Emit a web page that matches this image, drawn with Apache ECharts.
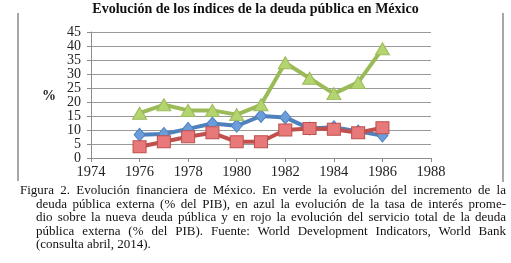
<!DOCTYPE html>
<html>
<head>
<meta charset="utf-8">
<script src="https://cdn.jsdelivr.net/npm/echarts@6/dist/echarts.min.js"></script>
<style>
  html, body { margin: 0; padding: 0; background: #fff; }
  #wrap { position: relative; width: 511px; height: 263px; overflow: hidden; }
  #chart { position: absolute; left: 0; top: 0; width: 511px; height: 263px; }
  .cap { position: absolute; font-family: 'Liberation Serif', 'DejaVu Serif', serif; font-size: 13px;
         color: #111; white-space: nowrap; line-height: 14px; }
  .just { text-align: justify; text-align-last: justify; white-space: normal; }
</style>
</head>
<body>
<div id="wrap">
  <div id="chart"></div>
  <div class="cap just" style="left:20px; top:183px; width:486px;">Figura 2. Evolución financiera de México. En verde la evolución del incremento de la</div>
  <div class="cap just" style="left:36px; top:196.5px; width:470px;">deuda pública externa (% del PIB), en azul la evolución de la tasa de interés prome-</div>
  <div class="cap just" style="left:36px; top:210px; width:470px;">dio sobre la nueva deuda pública y en rojo la evolución del servicio total de la deuda</div>
  <div class="cap just" style="left:36px; top:223.5px; width:470px;">pública externa (% del PIB). Fuente: World Development Indicators, World Bank</div>
  <div class="cap" style="left:36px; top:237px;">(consulta abril, 2014).</div>
</div>
<script>
// Data
var years = [1976, 1977, 1978, 1979, 1980, 1981, 1982, 1983, 1984, 1985, 1986];
var deudaExterna = [16, 19, 17, 17, 15.5, 19, 34, 28.5, 23, 27, 39];       // verde
var tasaInteres = [8.3, 8.6, 10.4, 12.3, 11.5, 15, 14.5, 10.5, 11, 9.5, 8]; // azul
var servicioDeuda = [4, 5.8, 7.6, 9, 5.8, 5.8, 10, 10.5, 10.3, 9, 10.8];   // rojo
var yTicks = [0, 5, 10, 15, 20, 25, 30, 35, 40, 45];
var xTicks = [1974, 1976, 1978, 1980, 1982, 1984, 1986, 1988];

var serif = "'Liberation Serif', 'DejaVu Serif', serif";

var pairs = function pairs(vals) {
  return years.map(function (y, i) { return [y, vals[i]]; });
};

var mkSeries = function mkSeries(name, vals, line, fill, symbol, size) {
  return {
    type: 'line',
    name: name,
    data: pairs(vals),
    symbol: symbol,
    symbolSize: size,
    showAllSymbol: true,
    lineStyle: { color: line, width: 4 },
    itemStyle: { color: fill, borderColor: line, borderWidth: 1 },
    animation: false
  };
};

var chart = echarts.init(document.getElementById('chart'));

chart.setOption({
  animation: false,
  grid: { left: 91, right: 80, top: 32, bottom: 105 },
  title: {
    text: 'Evolución de los índices de la deuda pública en México',
    left: 'center',
    top: -3,
    textStyle: { fontFamily: serif, fontSize: 14, fontWeight: 'bold', color: '#111' }
  },
  xAxis: {
    type: 'value',
    min: xTicks[0],
    max: xTicks[xTicks.length - 1],
    interval: 2,
    axisLine: { show: true, lineStyle: { color: '#8c8c8c', width: 1 } },
    axisTick: { show: true, length: 4, lineStyle: { color: '#8c8c8c' } },
    axisLabel: { fontFamily: serif, fontSize: 14.5, color: '#222', margin: 7,
      showMinLabel: true, showMaxLabel: true,
      formatter: function (v) { return String(v); } },
    splitLine: { show: false }
  },
  yAxis: {
    type: 'value',
    min: yTicks[0],
    max: yTicks[yTicks.length - 1],
    interval: 5,
    axisLine: { show: true, lineStyle: { color: '#8c8c8c', width: 1 } },
    axisTick: { show: true, length: 4, lineStyle: { color: '#8c8c8c' } },
    axisLabel: { fontFamily: serif, fontSize: 14, lineHeight: 14, color: '#222', margin: 10,
      showMinLabel: true, showMaxLabel: true, hideOverlap: false },
    splitLine: { show: true, lineStyle: { color: '#9a9a9a', width: 1 } }
  },
  graphic: [
    { type: 'text', left: 42, top: 89,
      style: { text: '%', font: 'bold 14px ' + serif, fill: '#222' } },
    { type: 'line', shape: { x1: 18, y1: 13, x2: 18, y2: 181 },
      style: { stroke: '#8a8a8a', lineWidth: 1.5 } },
    { type: 'line', shape: { x1: 503, y1: 13, x2: 503, y2: 182 },
      style: { stroke: '#8a8a8a', lineWidth: 1.5 } }
  ],
  series: [
    mkSeries('Tasa de interés', tasaInteres, '#4f81bd', '#6b9ddb', 'diamond', [11, 13]),
    mkSeries('Servicio de la deuda', servicioDeuda, '#c0504d', '#e8797b', 'rect', [13, 12]),
    mkSeries('Deuda externa', deudaExterna, '#9bbb59', '#b3d46e', 'triangle', [14, 12])
  ]
});
</script>
</body>
</html>
